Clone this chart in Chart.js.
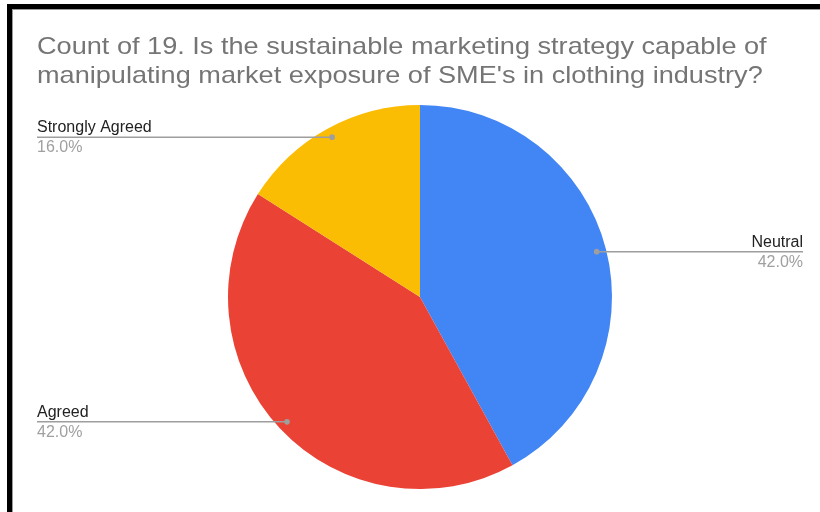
<!DOCTYPE html>
<html>
<head>
<meta charset="utf-8">
<script src="https://cdn.jsdelivr.net/npm/chart.js@4/dist/chart.umd.min.js"></script>
<style>
  html, body { margin: 0; padding: 0; background: #fff; overflow: hidden; }
  #wrap { position: relative; width: 820px; height: 512px; }
  #frame {
    position: absolute; left: 7px; top: 4px; right: -20px; bottom: -20px;
    border-top: 5px solid #000; border-left: 5px solid #000;
    pointer-events: none;
  }
  #frame::after {
    content: ''; position: absolute; left: 0; top: 0; right: 0; bottom: 0;
    border-top: 1px solid #9a9a9a; border-left: 1px solid #9a9a9a;
  }
</style>
</head>
<body>
<div id="wrap">
  <canvas id="pieChart" width="820" height="512"></canvas>
  <div id="frame"></div>
</div>
<script>
// Survey answers
const answers = ['Neutral', 'Agreed', 'Strongly Agreed'];
const counts = [21, 21, 8];
const sliceColors = ['#4285F4', '#EA4335', '#FBBC04'];
const titleLines = [
    'Count of 19. Is the sustainable marketing strategy capable of',
    "manipulating market exposure of SME's in clothing industry?"
];

const FONT = '"Liberation Sans", Arial, sans-serif';

// Two-line title, a little wider than the plain font
const sheetTitle = {
    id: 'sheetTitle',
    afterDraw(chart) {
        const ctx = chart.ctx;
        ctx.save();
        ctx.translate(chart.chartArea.left, 0);
        ctx.scale(1.13, 1);
        ctx.font = '24px ' + FONT;
        ctx.fillStyle = '#757575';
        ctx.textAlign = 'left';
        ctx.textBaseline = 'alphabetic';
        titleLines.forEach((line, i) => {
            ctx.fillText(line, 0, 54 + i * 29);
        });
        ctx.restore();
    }
};

// Leader lines with label + percentage, Sheets style
const leaderLabels = {
    id: 'leaderLabels',
    afterDatasetsDraw(chart) {
        const ctx = chart.ctx;
        const area = chart.chartArea;
        const meta = chart.getDatasetMeta(0);
        const total = counts.reduce((a, b) => a + b, 0);
        ctx.save();
        meta.data.forEach((arc, i) => {
            const p = arc.getProps(['x', 'y', 'startAngle', 'endAngle', 'outerRadius'], true);
            const mid = (p.startAngle + p.endAngle) / 2;
            const r = p.outerRadius * 0.95;
            const dx = p.x + Math.cos(mid) * r;
            const dy = p.y + Math.sin(mid) * r;
            const right = Math.cos(mid) >= 0;
            const endX = right ? area.right : area.left;

            ctx.strokeStyle = '#9e9e9e';
            ctx.lineWidth = 1.5;
            ctx.beginPath();
            ctx.moveTo(dx, dy);
            ctx.lineTo(endX, dy);
            ctx.stroke();

            ctx.fillStyle = '#9e9e9e';
            ctx.beginPath();
            ctx.arc(dx, dy, 2.8, 0, Math.PI * 2);
            ctx.fill();

            ctx.textAlign = right ? 'right' : 'left';
            ctx.textBaseline = 'alphabetic';
            ctx.font = '16px ' + FONT;
            ctx.fillStyle = '#222222';
            ctx.fillText(answers[i], endX, dy - 5);
            ctx.fillStyle = '#a0a0a0';
            ctx.fillText((counts[i] / total * 100).toFixed(1) + '%', endX, dy + 15);
        });
        ctx.restore();
    }
};

const ctx = document.getElementById('pieChart').getContext('2d');
new Chart(ctx, {
    type: 'pie',
    data: {
        labels: answers,
        datasets: [
            {
                data: counts,
                backgroundColor: sliceColors,
                borderWidth: 0,
                hoverOffset: 0,
                offset: 0
            }
        ]
    },
    options: {
        responsive: false,
        devicePixelRatio: 1,
        animation: false,
        layout: {
            padding: { left: 37, right: 17, top: 105, bottom: 23 }
        },
        plugins: {
            legend: { display: false },
            tooltip: { enabled: false },
            title: { display: false }
        }
    },
    plugins: [leaderLabels, sheetTitle]
});
</script>
</body>
</html>
